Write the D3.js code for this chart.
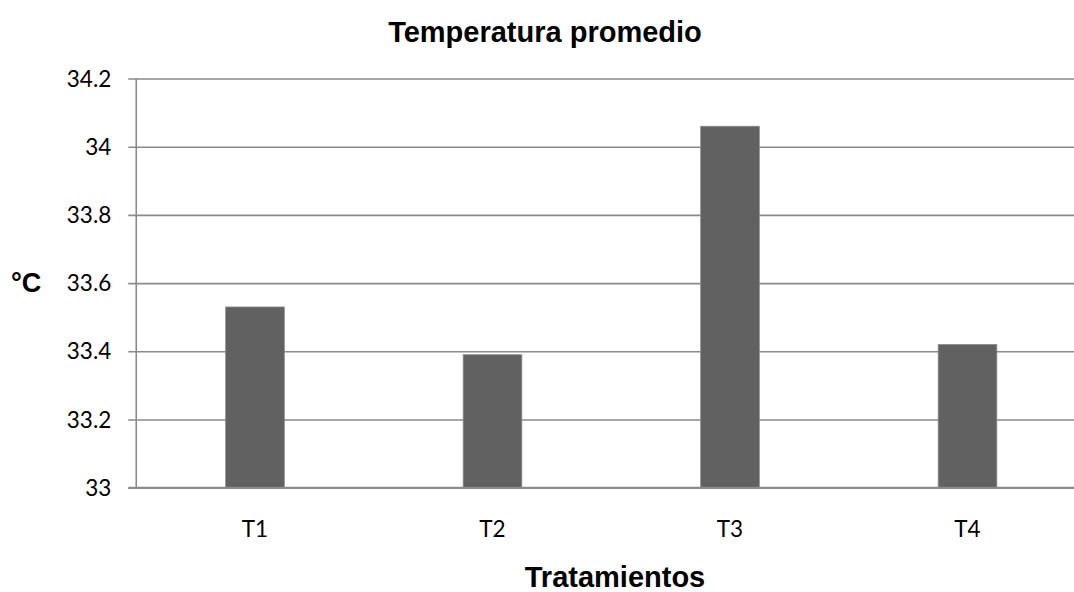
<!DOCTYPE html>
<html>
<head>
<meta charset="utf-8">
<script src="https://cdn.jsdelivr.net/npm/d3@7"></script>
<style>
  html, body { margin: 0; padding: 0; background: #fff; }
  svg { display: block; }
</style>
</head>
<body>
<svg id="chart" width="1074" height="592"></svg>
<script>
// Average temperature per treatment
const categories = ["T1", "T2", "T3", "T4"];
const values = [33.53, 33.39, 34.06, 33.42];
const yTicks = [33, 33.2, 33.4, 33.6, 33.8, 34, 34.2];
const titleText = "Temperatura promedio";
const xTitle = "Tratamientos";
const yTitle = "°C";

const svg = d3.select("#chart");
const W = 1074, H = 592;

const plot = { left: 136.25, right: 1086.25, top: 78.5, bottom: 487.7 };

const x = d3.scaleBand()
  .domain(categories)
  .range([plot.left, plot.right])
  .paddingInner(0.753)
  .paddingOuter(0.3765);

const y = d3.scaleLinear()
  .domain([33, 34.2])
  .range([plot.bottom, plot.top]);

const gridColor = "#8a8a8a";
const labelFont = "Lato, 'Open Sans', sans-serif";
const boldFont = "'Liberation Sans', Arial, sans-serif";

// Horizontal gridlines with left tick marks
const yAxis = d3.axisLeft(y)
  .tickValues(yTicks)
  .tickFormat(d3.format("~g"))
  .tickSizeInner(-(W - plot.left + 20))
  .tickSizeOuter(0)
  .tickPadding(0);

const gy = svg.append("g")
  .attr("transform", `translate(${plot.left},0)`)
  .call(yAxis);
gy.select(".domain").remove();
gy.selectAll(".tick line")
  .attr("x1", -8)
  .attr("stroke", gridColor)
  .attr("stroke-width", 1.6);
gy.selectAll(".tick text")
  .attr("x", -25)
  .attr("dy", "0.34em")
  .attr("fill", "#000")
  .style("font-family", labelFont)
  .style("font-size", "22.5px");

// Vertical value axis line
svg.append("line")
  .attr("x1", plot.left).attr("x2", plot.left)
  .attr("y1", plot.top).attr("y2", plot.bottom)
  .attr("stroke", gridColor)
  .attr("stroke-width", 1.6);

// Bars
svg.append("g")
  .selectAll("rect")
  .data(values)
  .join("rect")
  .attr("x", (d, i) => x(categories[i]))
  .attr("width", x.bandwidth())
  .attr("y", d => y(d))
  .attr("height", d => y(33) - y(d))
  .attr("fill", "#616161")
  .attr("stroke", "#8c8c8c")
  .attr("stroke-width", 0.8);

// Category axis (baseline + labels)
const xAxis = d3.axisBottom(x).tickSize(0).tickPadding(0);
const gx = svg.append("g")
  .attr("transform", `translate(0,${plot.bottom})`)
  .call(xAxis);
gx.select(".domain").remove();
gx.selectAll(".tick text")
  .attr("y", 49)
  .attr("dy", 0)
  .attr("fill", "#000")
  .style("font-family", labelFont)
  .style("font-size", "22.5px");

svg.append("line")
  .attr("x1", plot.left - 8).attr("x2", W)
  .attr("y1", plot.bottom).attr("y2", plot.bottom)
  .attr("stroke", gridColor)
  .attr("stroke-width", 2);

// Titles
svg.append("text")
  .attr("x", 545).attr("y", 41.7)
  .attr("text-anchor", "middle")
  .style("font-family", boldFont)
  .style("font-weight", "bold")
  .style("font-size", "29px")
  .text(titleText);

svg.append("text")
  .attr("x", 615).attr("y", 587)
  .attr("text-anchor", "middle")
  .style("font-family", boldFont)
  .style("font-weight", "bold")
  .style("font-size", "29px")
  .text(xTitle);

svg.append("text")
  .attr("x", 11).attr("y", 291.7)
  .style("font-family", boldFont)
  .style("font-weight", "bold")
  .style("font-size", "27px")
  .text(yTitle);
</script>
</body>
</html>
